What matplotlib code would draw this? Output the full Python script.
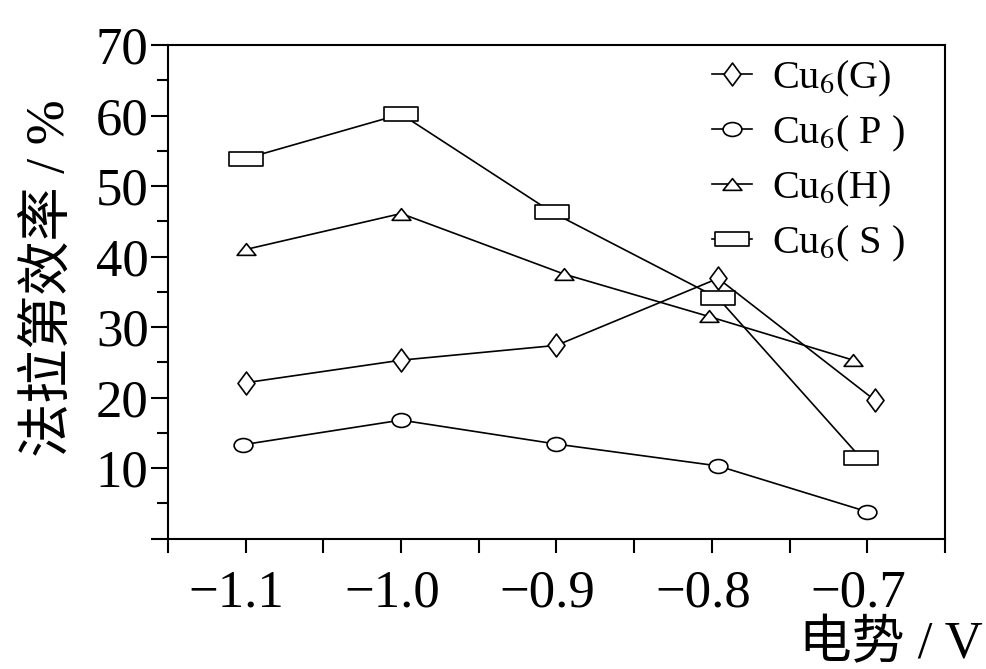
import matplotlib
matplotlib.use('Agg')
import matplotlib.pyplot as plt
from matplotlib.path import Path
from matplotlib.transforms import Affine2D, ScaledTranslation

plt.rcParams['font.family'] = ['Liberation Serif', 'Noto Sans CJK SC']
plt.rcParams['mathtext.fontset'] = 'stix'

# data (x = potential / V, y = Faradaic efficiency / %)
x_g = [-1.1, -1.0, -0.9, -0.796, -0.695]
y_g = [22.1, 25.3, 27.4, 36.9, 19.6]
x_p = [-1.102, -1.0, -0.9, -0.796, -0.7]
y_p = [13.3, 16.8, 13.4, 10.3, 3.8]
x_h = [-1.1, -1.0, -0.895, -0.802, -0.709]
y_h = [41.0, 46.1, 37.5, 31.5, 25.3]
x_s = [-1.1, -1.0, -0.903, -0.796, -0.704]
y_s = [53.9, 60.2, 46.3, 34.1, 11.4]

labels = [r'Cu$_6$(G)', r'Cu$_6$( P )', r'Cu$_6$(H)', r'Cu$_6$( S )']
xticks = [-1.1, -1.0, -0.9, -0.8, -0.7]
xticklabels = ['\u22121.1', '\u22121.0', '\u22120.9', '\u22120.8', '\u22120.7']
yticks = [0, 10, 20, 30, 40, 50, 60, 70]
yticklabels = ['', '10', '20', '30', '40', '50', '60', '70']

# marker shapes (aspect ratios of the original symbols)
rect = Path([(-1.2, -0.5), (1.2, -0.5), (1.2, 0.5), (-1.2, 0.5), (-1.2, -0.5)],
            [Path.MOVETO, Path.LINETO, Path.LINETO, Path.LINETO, Path.CLOSEPOLY])
diamond = Path([(0, 1), (0.74, 0), (0, -1), (-0.74, 0), (0, 1)],
               [Path.MOVETO, Path.LINETO, Path.LINETO, Path.LINETO, Path.CLOSEPOLY])
tri = Path([(-0.8, -0.5), (0.8, -0.5), (0, 0.5), (-0.8, -0.5)],
           [Path.MOVETO, Path.LINETO, Path.LINETO, Path.CLOSEPOLY])
ellipse = Path.unit_circle().transformed(Affine2D().scale(1.35, 1.0))

fig = plt.figure(figsize=(9.86, 6.69), dpi=100)
ax = fig.add_axes([0.1704, 0.195, 0.788, 0.7377])

common = dict(color='black', lw=1.2, mfc='white', mec='black', mew=1.2)
ax.plot(x_g, y_g, marker=diamond, ms=16.5, label=labels[0], **common)
ax.plot(x_p, y_p, marker=ellipse, ms=13.5, label=labels[1], **common)
ax.plot(x_h, y_h, marker=tri, ms=13.5, label=labels[2], **common)
ax.plot(x_s, y_s, marker=rect, ms=24, label=labels[3], **common)

ax.set_xlim(-1.15, -0.65)
ax.set_ylim(0, 70)
ax.set_xticks(xticks)
ax.set_xticklabels(xticklabels)
ax.set_xticks([-1.15, -1.05, -0.95, -0.85, -0.75, -0.65], minor=True)
ax.set_yticks(yticks)
ax.set_yticklabels(yticklabels)
ax.set_yticks([5, 15, 25, 35, 45, 55, 65], minor=True)

for s in ax.spines.values():
    s.set_linewidth(1.5)
ax.tick_params(axis='y', which='major', direction='out', length=12, width=1.5,
               labelsize=38, pad=2)
ax.tick_params(axis='y', which='minor', direction='out', length=8, width=1.5)
ax.tick_params(axis='x', which='both', direction='out', length=10, width=1.5,
               labelsize=38, pad=12)

# x tick labels sit a little left of their ticks in the original
shift = ScaledTranslation(-9 / 100, 0, fig.dpi_scale_trans)
for lab in ax.get_xticklabels():
    lab.set_transform(lab.get_transform() + shift)

fig.text(0.051, 0.585, '法拉第效率 / %', fontsize=39, rotation=90,
         ha='center', va='center')
fig.text(0.997, 0.0, '电势 / V', fontsize=38, ha='right', va='bottom')

leg = ax.legend(loc='upper right', bbox_to_anchor=(0.985, 1.03), frameon=False,
                fontsize=29, handlelength=1.0, handletextpad=0.5,
                labelspacing=0.37, borderaxespad=0.3)

plt.savefig('out.png', dpi=100)
